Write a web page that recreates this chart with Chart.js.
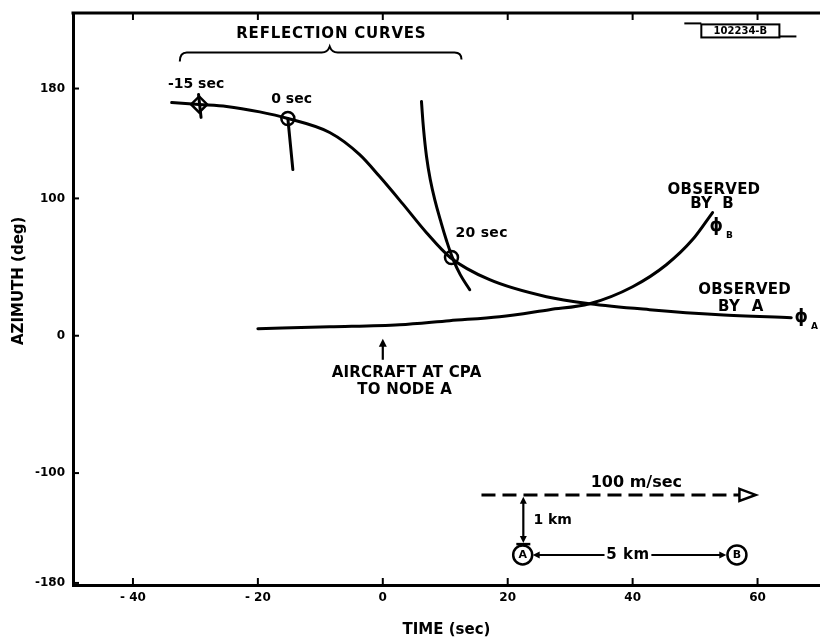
<!DOCTYPE html>
<html>
<head>
<meta charset="utf-8">
<script src="https://cdn.jsdelivr.net/npm/chart.js@4.4.0/dist/chart.umd.min.js"></script>
<style>
  html, body { margin: 0; padding: 0; background: #fff; }
  #wrap { width: 820px; height: 640px; }
</style>
</head>
<body>
<div id="wrap"><canvas id="c" width="820" height="640"></canvas></div>
<script>
// Azimuth (deg) against time (sec)

// Reflection curve through the -15 s and 0 s points, continuing as the curve observed by A
const timeA = [-33.8, -29.4, -25.0, -19.7, -15.2, -8.5, -3.7, -0.5, 3.2, 7.0, 10.8, 17.1, 26.2, 33.1, 42.7, 53.9, 65.4];
const azA   = [169.8, 168.4, 167.0, 163.0, 158.2, 148.0, 131.9, 115.9, 96.0, 75.0, 57.0, 40.8, 28.4, 23.3, 19.0, 15.3, 13.1];

// Reflection curve through the 20 s point
const timeR20 = [6.19, 6.53, 7.0, 7.6, 8.32, 9.2, 10.16, 11.28, 12.4, 13.92];
const azR20   = [170.6, 150.2, 130.5, 113.7, 99.1, 84.5, 69.9, 55.4, 44.5, 33.5];

// Short reflection segments at 0 s and -15 s
const timeR0  = [-15.2, -14.4];
const azR0    = [158.2, 121.0];
const timeR15 = [-29.5, -29.1];
const azR15   = [175.7, 159.0];

// Curve observed by B
const timeB = [-20.0, -8.5, 2.7, 10.7, 18.7, 26.7, 33.1, 40.0, 45.4, 49.6, 52.8];
const azB   = [5.1, 6.5, 8.0, 11.0, 13.8, 19.0, 23.3, 35.7, 51.7, 70.0, 89.7];

// Marked points: circles at 0 s and 20 s, diamond at -15 s
const circleTime  = [-15.2, 11.0];
const circleAz    = [158.2, 57.0];
const diamondTime = [-29.4];
const diamondAz   = [168.4];

// Axis ticks
const xTicks = [-40, -20, 0, 20, 40, 60];
const yTicks = [-180, -100, 0, 100, 180];

const INK = '#000';
const FONT = '"DejaVu Sans", "Liberation Sans", sans-serif';
const pts = (xs, ys) => xs.map((x, i) => ({ x: x, y: ys[i] }));

function curve(label, xs, ys, smooth) {
  const ds = {
    label: label,
    data: pts(xs, ys),
    showLine: true,
    borderColor: INK,
    borderWidth: 3,
    borderCapStyle: 'round',
    borderJoinStyle: 'round',
    pointRadius: 0,
    fill: false
  };
  if (smooth === 'tension') {
    ds.tension = 0.4;
  } else {
    ds.cubicInterpolationMode = 'monotone';
  }
  return ds;
}

// Text labels placed in data units
const notes = [
  { text: 'REFLECTION CURVES', x: -8.3, y: 219.4, size: 15, sp: 0.8 },
  { text: '-15 sec', x: -29.9, y: 183.0, size: 14, sp: 0 },
  { text: '0 sec', x: -14.6, y: 172.0, size: 14, sp: 0 },
  { text: '20 sec', x: 15.8, y: 74.3, size: 14, sp: 0.3 },
  { text: 'OBSERVED', x: 53.0, y: 106.4, size: 15, sp: 0.2 },
  { text: 'BY  B', x: 52.7, y: 95.5, size: 15, sp: 0 },
  { text: 'OBSERVED', x: 57.9, y: 33.5, size: 15, sp: 0.2 },
  { text: 'BY  A', x: 57.3, y: 21.1, size: 15, sp: 0.5 },
  { text: 'AIRCRAFT AT CPA', x: 3.8, y: -27.0, size: 15, sp: 0.2 },
  { text: 'TO NODE A', x: 3.5, y: -39.4, size: 15, sp: 0.2 },
  { text: '100 m/sec', x: 40.6, y: -107.1, size: 16, sp: 0 },
  { text: '1 km', x: 27.2, y: -134.1, size: 14, sp: 0 },
  { text: '5 km', x: 39.2, y: -159.6, size: 15, sp: 0.5 }
];

function txt(ctx, s, x, y, size, sp, align) {
  ctx.save();
  ctx.font = 'bold ' + size + 'px ' + FONT;
  ctx.letterSpacing = (sp || 0) + 'px';
  ctx.textAlign = align || 'center';
  ctx.textBaseline = 'middle';
  ctx.fillStyle = INK;
  ctx.fillText(s, x + ((align || 'center') === 'center' ? (sp || 0) / 2 : 0), y);
  ctx.restore();
}

function arrowHead(ctx, x, y, ang, len, half) {
  ctx.save();
  ctx.translate(x, y);
  ctx.rotate(ang);
  ctx.beginPath();
  ctx.moveTo(0, 0);
  ctx.lineTo(-len, -half);
  ctx.lineTo(-len, half);
  ctx.closePath();
  ctx.fillStyle = INK;
  ctx.fill();
  ctx.restore();
}

function line(ctx, x0, y0, x1, y1, w) {
  ctx.beginPath();
  ctx.moveTo(x0, y0);
  ctx.lineTo(x1, y1);
  ctx.lineWidth = w;
  ctx.strokeStyle = INK;
  ctx.stroke();
}

// White page behind everything
const paper = {
  id: 'paper',
  beforeDraw(chart) {
    const ctx = chart.ctx;
    ctx.save();
    ctx.fillStyle = '#fff';
    ctx.fillRect(0, 0, chart.width, chart.height);
    ctx.restore();
  }
};

// Frame line on top, inward tick marks, annotations and the geometry sketch
const overlay = {
  id: 'overlay',
  afterDraw(chart) {
    const ctx = chart.ctx;
    const a = chart.chartArea;
    const xs = chart.scales.x, ys = chart.scales.y;
    const X = v => xs.getPixelForValue(v);
    const Y = v => ys.getPixelForValue(v);
    ctx.save();
    ctx.lineCap = 'butt';

    // top frame line
    line(ctx, a.left - 1.5, a.top, chart.width, a.top, 3);

    // inward ticks
    xTicks.forEach(v => {
      line(ctx, X(v), a.bottom, X(v), a.bottom - 7, 2);
      line(ctx, X(v), a.top, X(v), a.top + 7, 2);
    });
    yTicks.forEach(v => {
      line(ctx, a.left, Y(v), a.left + 6, Y(v), 2);
    });

    // y axis title
    ctx.save();
    ctx.translate(a.left - 54, Y(40));
    ctx.rotate(-Math.PI / 2);
    txt(ctx, 'AZIMUTH (deg)', 0, 0, 15, 0);
    ctx.restore();

    // labels
    notes.forEach(n => txt(ctx, n.text, X(n.x), Y(n.y), n.size, n.sp));

    // brace over the reflection curves
    const bl = X(-32.5), br = X(12.6), bm = X(-8.5);
    const by = Y(206.3), byEndL = Y(199.7), byEndR = Y(201.2), byTip = Y(210.6);
    ctx.beginPath();
    ctx.moveTo(bl, byEndL);
    ctx.quadraticCurveTo(bl, by, bl + 7, by);
    ctx.lineTo(bm - 8, by);
    ctx.quadraticCurveTo(bm - 2, by, bm, byTip);
    ctx.quadraticCurveTo(bm + 2, by, bm + 8, by);
    ctx.lineTo(br - 7, by);
    ctx.quadraticCurveTo(br, by, br, byEndR);
    ctx.lineWidth = 2;
    ctx.strokeStyle = INK;
    ctx.stroke();

    // phi symbols
    txt(ctx, '\u03D5', X(53.4), Y(79.5), 17, 0);
    txt(ctx, 'B', X(55.5), Y(73.0), 9, 0);
    txt(ctx, '\u03D5', X(67.0), Y(13.5), 17, 0);
    txt(ctx, 'A', X(69.1), Y(6.5), 9, 0);

    // drawing number box
    const bx0 = X(51.0), bx1 = X(63.5), by0 = Y(226.7), by1 = Y(217.2);
    ctx.lineWidth = 2;
    ctx.strokeRect(bx0, by0, bx1 - bx0, by1 - by0);
    line(ctx, bx0 - 17, by0 - 1, bx0, by0 - 1, 2);
    line(ctx, bx1, by1 - 1, bx1 + 17, by1 - 1, 2);
    txt(ctx, '102234-B', (bx0 + bx1) / 2, (by0 + by1) / 2 + 0.5, 10, 0);

    // arrow to the CPA point
    line(ctx, X(0), Y(-17.5), X(0), Y(0) + 8, 2.2);
    arrowHead(ctx, X(0), Y(0) + 3, -Math.PI / 2, 8, 4);

    // aircraft track (dashed) with open arrowhead
    const ty = Y(-115.9);
    ctx.save();
    ctx.setLineDash([14, 7]);
    line(ctx, X(15.8), ty, X(57.1), ty, 3);
    ctx.restore();
    ctx.beginPath();
    ctx.moveTo(X(57.1), ty - 6);
    ctx.lineTo(X(59.7), ty);
    ctx.lineTo(X(57.1), ty + 6);
    ctx.closePath();
    ctx.fillStyle = '#fff';
    ctx.fill();
    ctx.lineWidth = 2.5;
    ctx.stroke();

    // 1 km offset arrow
    const vx = X(22.5);
    const vTop = Y(-117.3), vBot = Y(-151.0);
    line(ctx, vx, vTop + 6, vx, vBot - 6, 2.2);
    arrowHead(ctx, vx, vTop, -Math.PI / 2, 7, 3.5);
    arrowHead(ctx, vx, vBot, Math.PI / 2, 7, 3.5);
    line(ctx, vx - 7, vBot + 1, vx + 7, vBot + 1, 2.5);

    // nodes A and B
    const ny = Y(-159.6);
    [[X(22.4), 'A'], [X(56.7), 'B']].forEach(([cx, lab]) => {
      ctx.beginPath();
      ctx.arc(cx, ny, 9.5, 0, Math.PI * 2);
      ctx.fillStyle = '#fff';
      ctx.fill();
      ctx.lineWidth = 2.5;
      ctx.strokeStyle = INK;
      ctx.stroke();
      txt(ctx, lab, cx, ny + 0.5, 11, 0);
    });

    // 5 km separation arrows
    line(ctx, X(24.0) + 6, ny, X(35.5), ny, 2);
    arrowHead(ctx, X(24.0), ny, Math.PI, 7, 3.5);
    line(ctx, X(43.0), ny, X(55.0) - 6, ny, 2);
    arrowHead(ctx, X(55.0), ny, 0, 7, 3.5);

    ctx.restore();
  }
};

const tickFont = { family: FONT, size: 12, weight: 'bold' };

new Chart(document.getElementById('c'), {
  type: 'scatter',
  data: {
    datasets: [
      curve('Observed by A', timeA, azA),
      curve('Reflection 20 s', timeR20, azR20, 'tension'),
      curve('Reflection 0 s', timeR0, azR0),
      curve('Reflection -15 s', timeR15, azR15),
      curve('Observed by B', timeB, azB),
      {
        label: 'Reflection points',
        data: pts(circleTime, circleAz),
        showLine: false,
        pointStyle: 'circle',
        pointRadius: 6.5,
        pointBorderWidth: 2.5,
        pointBorderColor: INK,
        pointBackgroundColor: 'rgba(0,0,0,0)'
      },
      {
        label: 'Start point',
        data: pts(diamondTime, diamondAz),
        showLine: false,
        pointStyle: 'rectRot',
        pointRadius: 8,
        pointBorderWidth: 2.5,
        pointBorderColor: INK,
        pointBackgroundColor: 'rgba(0,0,0,0)'
      }
    ]
  },
  options: {
    responsive: false,
    animation: false,
    events: [],
    layout: { autoPadding: false, padding: { left: 0, right: 0, top: 13, bottom: 0 } },
    plugins: { legend: { display: false }, tooltip: { enabled: false } },
    scales: {
      x: {
        type: 'linear',
        position: 'bottom',
        min: -49.6,
        max: 70,
        grid: { display: false, drawTicks: true, tickLength: 6 },
        border: { display: true, color: INK, width: 3 },
        afterBuildTicks: s => { s.ticks = xTicks.map(v => ({ value: v })); },
        afterFit: s => { s.height = 55; s.paddingLeft = 0; s.paddingRight = 0; },
        ticks: {
          autoSkip: false,
          maxRotation: 0,
          color: INK,
          font: tickFont,
          padding: 0,
          callback: v => (v < 0 ? '- ' + Math.abs(v) : String(v))
        },
        title: {
          display: true,
          text: 'TIME (sec)',
          color: INK,
          font: { family: FONT, size: 15, weight: 'bold' },
          padding: { top: 0, bottom: 1 }
        }
      },
      y: {
        type: 'linear',
        position: 'left',
        min: -181.5,
        max: 235,
        grid: { display: false, drawTicks: true, tickLength: 8 },
        border: { display: true, color: INK, width: 3 },
        afterBuildTicks: s => { s.ticks = yTicks.map(v => ({ value: v })); },
        afterFit: s => { s.width = 73; s.paddingTop = 0; s.paddingBottom = 0; },
        ticks: {
          autoSkip: false,
          color: INK,
          font: tickFont,
          padding: 0,
          callback: v => String(v)
        }
      }
    }
  },
  plugins: [paper, overlay]
});
</script>
</body>
</html>
